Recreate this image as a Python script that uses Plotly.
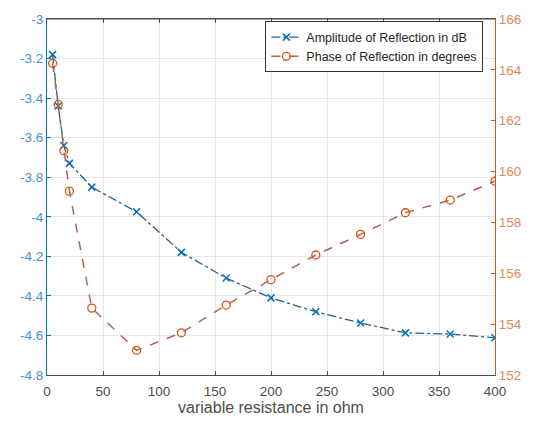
import plotly.graph_objects as go

resistance = [5, 10, 15, 20, 40, 80, 120, 160, 200, 240, 280, 320, 360, 400]
amplitude_db = [-3.18, -3.44, -3.64, -3.73, -3.85, -3.975, -4.18, -4.31, -4.41, -4.48, -4.537, -4.587, -4.593, -4.612]
phase_deg = [164.26, 162.64, 160.82, 159.23, 154.63, 152.97, 153.66, 154.75, 155.75, 156.72, 157.53, 158.38, 158.88, 159.62]

x_ticks = [0, 50, 100, 150, 200, 250, 300, 350, 400]
left_ticks = [-4.8, -4.6, -4.4, -4.2, -4.0, -3.8, -3.6, -3.4, -3.2, -3.0]
left_labels = ["-4.8", "-4.6", "-4.4", "-4.2", "-4", "-3.8", "-3.6", "-3.4", "-3.2", "-3"]
right_ticks = [152, 154, 156, 158, 160, 162, 164, 166]

BLUE = "#0072BD"
ORANGE = "#D95319"
FONT = "Liberation Sans, Arial, sans-serif"

fig = go.Figure()
fig.add_trace(go.Scatter(
    x=resistance, y=amplitude_db, name="Amplitude of Reflection in dB",
    mode="lines+markers",
    line=dict(color="#235f8a", width=1.3, dash="dashdot"),
    marker=dict(symbol="x-thin", size=7, line=dict(color=BLUE, width=1.5), color=BLUE),
    yaxis="y"))
fig.add_trace(go.Scatter(
    x=resistance, y=phase_deg, name="Phase of Reflection in degrees",
    mode="lines+markers",
    line=dict(color="#b0654a", width=1.5, dash="dash"),
    marker=dict(symbol="circle-open", size=8, line=dict(color=ORANGE, width=1.3), color=ORANGE),
    yaxis="y2"))

fig.update_layout(
    width=534, height=430,
    margin=dict(l=47, r=34, t=13, b=55),
    paper_bgcolor="white", plot_bgcolor="white",
    font=dict(family=FONT, size=13, color="#4d4d4d"),
    showlegend=True,
    legend=dict(x=0.974, y=0.993, xanchor="right", yanchor="top",
                bgcolor="white", bordercolor="#333333", borderwidth=1,
                font=dict(size=12.5, color="#262626"), tracegroupgap=0,
                itemwidth=30),
    xaxis=dict(range=[0, 400], tickvals=x_ticks, showgrid=True, gridcolor="#e6e6e6",
               ticks="inside", ticklen=4, tickcolor="#4d4d4d",
               showline=True, linecolor="#4d4d4d", linewidth=1, mirror="ticks",
               zeroline=False, tickfont=dict(size=13.5, color="#4d4d4d"),
               ticklabelstandoff=4,
               title=dict(text="variable resistance in ohm", font=dict(size=16, color="#4d4d4d"), standoff=2)),
    yaxis=dict(range=[-4.8, -3.0], tickvals=left_ticks, ticktext=left_labels,
               showgrid=True, gridcolor="#e6e6e6", ticks="inside", ticklen=4, tickcolor=BLUE,
               showline=True, linecolor=BLUE, linewidth=1, zeroline=False,
               tickfont=dict(size=13.5, color="#4a90c8")),
    yaxis2=dict(range=[152, 166], tickvals=right_ticks, overlaying="y", side="right",
                showgrid=False, ticks="inside", ticklen=4, tickcolor=ORANGE,
                showline=True, linecolor=ORANGE, linewidth=1, zeroline=False,
                tickfont=dict(size=13.5, color="#e08a5a")),
    shapes=[dict(type="line", xref="paper", yref="paper", x0=0, x1=1, y0=1, y1=1,
                 line=dict(color="#4d4d4d", width=1))],
)

fig.write_html("out.html")
